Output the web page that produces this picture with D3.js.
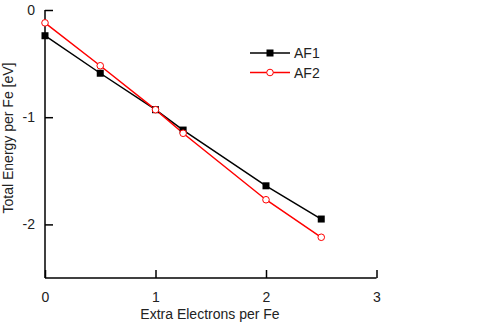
<!DOCTYPE html>
<html>
<head>
<meta charset="utf-8">
<script src="https://cdn.jsdelivr.net/npm/d3@7"></script>
<style>
  body { margin: 0; background: #fff; }
  text { font-family: "Liberation Sans", Arial, sans-serif; fill: #222; }
</style>
</head>
<body>
<div id="chart"></div>
<script>
// Data
const electrons = [0, 0.5, 1, 1.25, 2, 2.5];
const af1 = [-0.24, -0.59, -0.93, -1.12, -1.64, -1.95];
const af2 = [-0.12, -0.52, -0.93, -1.15, -1.77, -2.12];
const seriesNames = ["AF1", "AF2"];
const xTicks = [0, 1, 2, 3];
const yTicks = [0, -1, -2];

const width = 485;
const height = 323;

// plain hyphen for negatives, like the original
const fmt = (d) => String(d);

const svg = d3
  .select("#chart")
  .append("svg")
  .attr("width", width)
  .attr("height", height);

// Scales
const x = d3.scaleLinear().domain([0, 3]).range([45, 376.5]);
const y = d3.scaleLinear().domain([-2.5, 0]).range([278, 10]);

// x-axis
const xAxis = svg.append("g").attr("transform", `translate(0, ${y(-2.5)})`);
xAxis
  .call(d3.axisBottom(x).tickValues(d3.range(0, 3.01, 0.5)).tickSize(-5).tickFormat(""))
  .call((g) => g.select(".domain").remove());
xAxis
  .call(d3.axisBottom(x).tickValues(xTicks).tickSize(-8).tickPadding(14).tickFormat(fmt))
  .call((g) => g.select(".domain").attr("d", `M${x(0)},0H${x(3)}`));
xAxis.selectAll("line").attr("stroke", "#000").attr("stroke-width", 1.5);
xAxis.selectAll(".domain").attr("stroke", "#000").attr("stroke-width", 1.5);
xAxis.selectAll("text").style("font-size", "14px").attr("fill", "#222");

// y-axis
const yAxis = svg.append("g").attr("transform", `translate(${x(0)}, 0)`);
yAxis
  .call(d3.axisLeft(y).tickValues([-0.5, -1.5]).tickSize(-5).tickFormat(""))
  .call((g) => g.select(".domain").remove());
yAxis
  .call(d3.axisLeft(y).tickValues(yTicks).tickSize(-8).tickPadding(10).tickFormat(fmt))
  .call((g) => g.select(".domain").attr("d", `M0,${y(0)}V${y(-2.5)}`));
yAxis.selectAll("line").attr("stroke", "#000").attr("stroke-width", 1.5);
yAxis.selectAll(".domain").attr("stroke", "#000").attr("stroke-width", 1.5);
yAxis.selectAll("text").style("font-size", "14px").attr("fill", "#222");

// Axis titles
svg
  .append("text")
  .attr("x", 210)
  .attr("y", 319)
  .attr("text-anchor", "middle")
  .style("font-size", "14px")
  .text("Extra Electrons per Fe");

svg
  .append("text")
  .attr("transform", `translate(13, 138) rotate(-90)`)
  .attr("text-anchor", "middle")
  .style("font-size", "14px")
  .text("Total Energy per Fe [eV]");

// Lines
const line = d3
  .line()
  .x((d, i) => x(electrons[i]))
  .y((d) => y(d));

svg
  .append("path")
  .datum(af1)
  .attr("fill", "none")
  .attr("stroke", "#000")
  .attr("stroke-width", 1.5)
  .attr("d", line);

svg
  .append("path")
  .datum(af2)
  .attr("fill", "none")
  .attr("stroke", "#ff0000")
  .attr("stroke-width", 1.5)
  .attr("d", line);

// Markers
svg
  .selectAll(".sq")
  .data(af1)
  .enter()
  .append("rect")
  .attr("class", "sq")
  .attr("x", (d, i) => x(electrons[i]) - 3.5)
  .attr("y", (d) => y(d) - 3.5)
  .attr("width", 7)
  .attr("height", 7)
  .attr("fill", "#000");

svg
  .selectAll(".ci")
  .data(af2)
  .enter()
  .append("circle")
  .attr("class", "ci")
  .attr("cx", (d, i) => x(electrons[i]))
  .attr("cy", (d) => y(d))
  .attr("r", 3.3)
  .attr("fill", "#fff")
  .attr("stroke", "#ff0000")
  .attr("stroke-width", 1);

// Legend
const legend = svg.append("g").attr("transform", "translate(250, 53)");
const items = legend
  .selectAll("g")
  .data(seriesNames)
  .enter()
  .append("g")
  .attr("transform", (d, i) => `translate(0, ${i * 19.5})`);

items
  .append("line")
  .attr("x1", 0)
  .attr("x2", 40)
  .attr("stroke", (d, i) => (i === 0 ? "#000" : "#ff0000"))
  .attr("stroke-width", 1.5);

items
  .filter((d, i) => i === 0)
  .append("rect")
  .attr("x", 16.5)
  .attr("y", -3.5)
  .attr("width", 7)
  .attr("height", 7)
  .attr("fill", "#000");

items
  .filter((d, i) => i === 1)
  .append("circle")
  .attr("cx", 20)
  .attr("r", 3.3)
  .attr("fill", "#fff")
  .attr("stroke", "#ff0000");

items
  .append("text")
  .attr("x", 44)
  .attr("dy", "0.36em")
  .style("font-size", "14px")
  .text((d) => d);
</script>
</body>
</html>
